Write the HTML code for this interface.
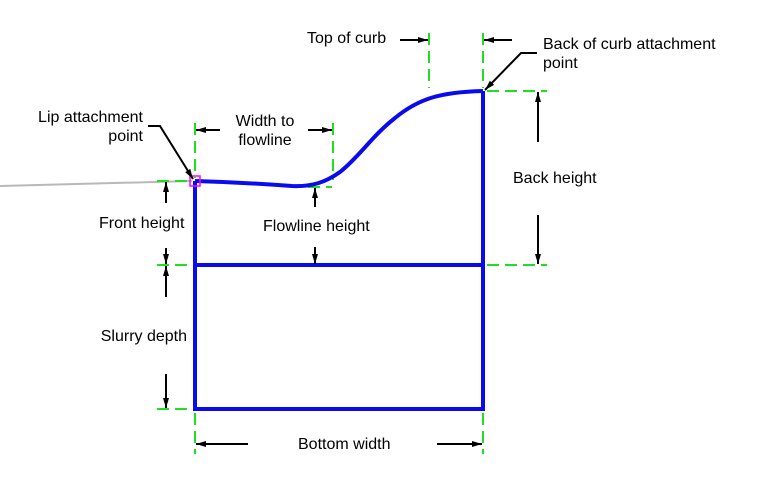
<!DOCTYPE html>
<html><head><meta charset="utf-8"><style>
html,body{margin:0;padding:0;background:#fff;}
svg{display:block;}
text{font-family:"Liberation Sans",Arial,sans-serif;font-size:16px;fill:#000;}
</style></head><body>
<svg width="758" height="483" viewBox="0 0 758 483" xmlns="http://www.w3.org/2000/svg">
<defs>
<marker id="ah" markerWidth="10" markerHeight="8" refX="10" refY="4" orient="auto" markerUnits="userSpaceOnUse">
<path d="M0,1 L10,4 L0,7 Z" fill="#000"/>
</marker>
</defs>
<!-- gray ground line -->
<line x1="0" y1="186" x2="192" y2="181" stroke="#b8b8b8" stroke-width="2"/>

<!-- green dashed extension lines -->
<g stroke="#1ee01e" stroke-width="2" stroke-dasharray="12,6" fill="none">
<line x1="195" y1="123" x2="195" y2="178"/>
<line x1="333" y1="123" x2="333" y2="180"/>
<line x1="157" y1="181" x2="192" y2="181"/>
<line x1="308" y1="187" x2="332" y2="187"/>
<line x1="157" y1="265" x2="192" y2="265"/>
<line x1="308" y1="265" x2="320" y2="265"/>
<line x1="487" y1="265" x2="547" y2="265"/>
<line x1="487" y1="91" x2="547" y2="91"/>
<line x1="429" y1="33" x2="429" y2="88"/>
<line x1="483" y1="33" x2="483" y2="88"/>
<line x1="157" y1="409" x2="192" y2="409"/>
<line x1="195" y1="413" x2="195" y2="454"/>
<line x1="483" y1="413" x2="483" y2="454"/>
</g>

<!-- blue profile -->
<g stroke="#0a0aee" stroke-width="4" fill="none" stroke-linejoin="miter">
<path d="M195,181 C230,182 265,184 292,186 C312,187 326,182 340,172 C360,156 372,136 395,118 C418,99 440,92 483,91"/>
<line x1="195" y1="181" x2="195" y2="409"/>
<line x1="483" y1="91" x2="483" y2="409"/>
<line x1="193" y1="409" x2="485" y2="409"/>
<line x1="195" y1="265" x2="483" y2="265"/>
</g>

<!-- magenta lip marker -->
<rect x="190" y="176" width="10" height="10" fill="none" stroke="#ff00ff" stroke-width="1.5"/>

<!-- black dimension arrows -->
<g stroke="#000" stroke-width="2" fill="none">
<line x1="220" y1="130" x2="196" y2="130" marker-end="url(#ah)"/>
<line x1="308" y1="130" x2="332" y2="130" marker-end="url(#ah)"/>
<line x1="400" y1="40" x2="428" y2="40" marker-end="url(#ah)"/>
<line x1="512" y1="40" x2="484" y2="40" marker-end="url(#ah)"/>
<line x1="538" y1="142" x2="538" y2="92" marker-end="url(#ah)"/>
<line x1="538" y1="215" x2="538" y2="264" marker-end="url(#ah)"/>
<line x1="166" y1="203" x2="166" y2="182" marker-end="url(#ah)"/>
<line x1="166" y1="248" x2="166" y2="264" marker-end="url(#ah)"/>
<line x1="315" y1="207" x2="315" y2="188" marker-end="url(#ah)"/>
<line x1="315" y1="247" x2="315" y2="264" marker-end="url(#ah)"/>
<line x1="166" y1="297" x2="166" y2="266" marker-end="url(#ah)"/>
<line x1="166" y1="374" x2="166" y2="408" marker-end="url(#ah)"/>
<line x1="248" y1="444" x2="196" y2="444" marker-end="url(#ah)"/>
<line x1="437" y1="444" x2="482" y2="444" marker-end="url(#ah)"/>
<!-- leaders -->
<polyline points="148,126 160,126 193,179" marker-end="url(#ah)"/>
<polyline points="537,53 521,53 485,90" marker-end="url(#ah)"/>
</g>

<!-- labels -->
<text x="143" y="122" text-anchor="end">Lip attachment</text>
<text x="143" y="141" text-anchor="end">point</text>
<text x="265" y="126" text-anchor="middle">Width to</text>
<text x="265" y="145" text-anchor="middle">flowline</text>
<text x="99" y="228">Front height</text>
<text x="263" y="231">Flowline height</text>
<text x="307" y="43">Top of curb</text>
<text x="543" y="49">Back of curb attachment</text>
<text x="543" y="68">point</text>
<text x="513" y="183">Back height</text>
<text x="187" y="341" text-anchor="end">Slurry depth</text>
<text x="298" y="449">Bottom width</text>
</svg>
</body></html>
